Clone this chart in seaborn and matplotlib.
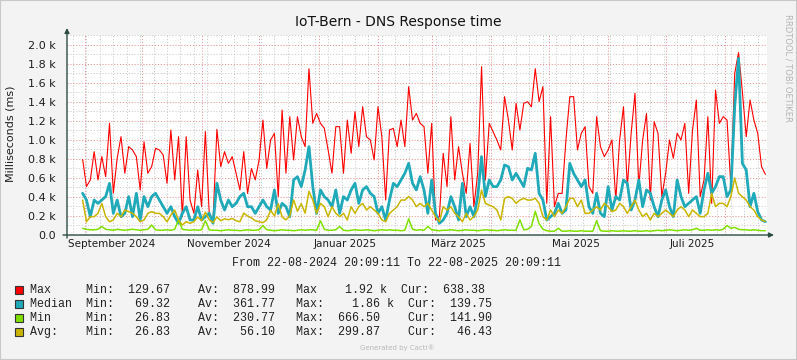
import matplotlib
matplotlib.use('Agg')
import matplotlib.pyplot as plt
import matplotlib.dates as mdates
from matplotlib.patches import Rectangle
from matplotlib.ticker import MultipleLocator, FuncFormatter
import pandas as pd
import seaborn as sns

# -----------------------------------------------------------------------------
# Data, one value every 2 days starting 31-08-2024 (ms)
# -----------------------------------------------------------------------------
max_ms = [
    795, 510, 580, 877, 580, 825, 614, 1175, 440, 807,
    1035, 650, 930, 895, 825, 474, 980, 650, 720, 912,
    895, 842, 544, 1105, 580, 1035, 193, 1035, 368, 228,
    684, 298, 1088, 228, 158, 1112, 719, 877, 754, 825,
    650, 474, 877, 438, 700, 580, 790, 1210, 700, 1000,
    1070, 404, 1315, 650, 1245, 790, 1245, 1035, 930, 1750,
    1175, 1280, 1175, 1123, 895, 650, 1140, 1140, 650, 1210,
    860, 1298, 930, 1350, 1035, 1000, 790, 1350, 1035, 368,
    1105, 1123, 930, 1210, 930, 1561, 1210, 1280, 1175,
    1140, 650, 1175, 158, 193, 860, 509, 1245, 579, 930,
    650, 438, 965, 298, 650, 1772, 579, 1175, 1088, 1000,
    895, 1456, 1210, 895, 1386, 1105, 1386, 1403, 1350, 1750,
    1403, 1561, 333, 1245, 298, 438, 438, 1000, 1456, 1456,
    895, 1070, 1140, 509, 438, 1245, 930, 825, 895, 1000,
    368, 1000, 1350, 509, 1070, 1491, 509, 1000, 1280, 368,
    1193, 1070, 404, 650, 1000, 807, 1070, 1000, 1175, 438,
    1105, 1420, 404, 579, 1245, 333, 1526, 1175, 1245, 1210,
    509, 1700, 1920, 1509, 1035, 1421, 1210, 1070, 719, 638,
]
median_ms = [
    439, 368, 193, 368, 333, 368, 404, 544, 228, 368,
    193, 228, 404, 193, 439, 158, 404, 298, 404, 439,
    368, 298, 228, 298, 193, 123, 228, 298, 158, 158,
    298, 158, 193, 228, 123, 544, 368, 263, 368, 298,
    333, 404, 439, 298, 298, 228, 298, 368, 298, 263,
    474, 228, 333, 298, 193, 579, 614, 509, 684, 930,
    509, 228, 474, 404, 368, 298, 474, 228, 404, 368,
    474, 544, 333, 474, 509, 439, 404, 228, 298, 158,
    368, 544, 509, 579, 649, 754, 544, 474, 614,
    474, 228, 579, 228, 123, 158, 228, 404, 298, 158,
    544, 193, 298, 193, 404, 825, 404, 579, 509, 509,
    579, 737, 719, 579, 649, 579, 509, 702, 684, 860,
    439, 368, 158, 193, 228, 333, 228, 263, 754, 649,
    579, 509, 579, 298, 228, 439, 228, 193, 509, 263,
    404, 368, 579, 544, 263, 368, 579, 298, 474, 439,
    298, 193, 368, 474, 298, 193, 579, 404, 298, 333,
    368, 404, 228, 474, 649, 439, 509, 614, 614, 404,
    474, 1350, 1860, 754, 684, 298, 439, 246, 158, 140,
]
min_ms = [
    70, 60, 55, 55, 60, 90, 60, 55, 50, 60,
    55, 50, 55, 60, 55, 50, 55, 60, 105, 55,
    50, 50, 55, 50, 60, 160, 60, 55, 50, 55,
    50, 55, 150, 55, 50, 50, 45, 50, 55, 50,
    50, 45, 50, 55, 50, 50, 55, 100, 55, 50,
    45, 50, 55, 50, 50, 45, 50, 55, 50, 55,
    55, 50, 150, 60, 50, 50, 55, 90, 50, 45,
    50, 55, 50, 50, 55, 50, 45, 50, 55, 50,
    55, 50, 50, 45, 50, 170, 60, 50, 55,
    50, 90, 55, 50, 45, 50, 50, 55, 50, 45,
    50, 55, 50, 50, 45, 50, 55, 50, 50, 45,
    50, 55, 50, 50, 50, 160, 55, 60, 90, 250,
    120, 60, 45, 40, 40, 70, 40, 40, 45, 40,
    40, 45, 40, 40, 40, 150, 45, 40, 40, 45,
    40, 40, 45, 40, 40, 45, 40, 40, 45, 40,
    45, 50, 45, 50, 55, 50, 45, 50, 55, 50,
    55, 70, 50, 50, 55, 50, 55, 50, 60, 100,
    70, 80, 60, 55, 55, 50, 55, 50, 45, 46,
]
avg_ms = [
    368, 140, 193, 193, 228, 333, 193, 140, 158, 228,
    193, 263, 246, 228, 193, 140, 158, 228, 246, 228,
    228, 193, 140, 210, 263, 158, 105, 140, 123, 140,
    190, 150, 240, 160, 130, 190, 150, 170, 160, 175,
    150, 140, 230, 200, 180, 150, 140, 130, 160, 260,
    200, 330, 190, 160, 200, 370, 250, 330, 230, 460,
    368, 228, 333, 298, 193, 298, 228, 193, 228, 158,
    298, 228, 298, 333, 263, 298, 263, 228, 158, 140,
    228, 263, 298, 368, 368, 404, 368, 298, 333,
    298, 333, 263, 193, 140, 298, 263, 298, 228, 193,
    140, 228, 158, 193, 263, 474, 333, 315, 298, 263,
    158, 386, 404, 386, 333, 368, 386, 368, 368, 386,
    333, 193, 158, 263, 193, 263, 228, 298, 386, 386,
    298, 368, 228, 228, 263, 298, 263, 333, 298, 246,
    263, 333, 298, 228, 298, 368, 263, 193, 228, 158,
    228, 193, 228, 263, 228, 193, 263, 298, 263, 193,
    263, 228, 193, 193, 228, 438, 298, 333, 333, 298,
    404, 600, 438, 404, 368, 298, 263, 193, 158, 142,
]

month_labels = ['September 2024', 'November 2024', 'Januar 2025',
                'März 2025', 'Mai 2025', 'Juli 2025']
month_label_dates = ['2024-09-15', '2024-11-15', '2025-01-15',
                     '2025-03-15', '2025-05-15', '2025-07-15']

# legend (gprint) table
legend_labels = ['Max', 'Median', 'Min', 'Avg:']
stat_min = ['129.67', '69.32', '26.83', '26.83']
stat_av = ['878.99', '361.77', '230.77', '56.10']
stat_max_label = ['Max', 'Max:', 'Max:', 'Max:']
stat_max = ['1.92', '1.86', '666.50', '299.87']
stat_max_unit = ['k', 'k', '', '']
stat_cur = ['638.38', '139.75', '141.90', '46.43']

series = ['Max', 'Median', 'Min', 'Avg']
colors = ['#FF0000', '#1FA9B9', '#7FE000', '#C9B500']
widths = [0.8, 2.0, 1.1, 1.1]

# -----------------------------------------------------------------------------
W, H = 797, 360
BG = '#F3F3F3'
AXIS_COL = '#2C4D43'


def fx(px):
    return px / W


def fy(py):
    return 1 - py / H


sns.set_theme(style='white')
plt.rcParams['font.family'] = ['DejaVu Sans']

assert len(max_ms) == len(median_ms) == len(min_ms) == len(avg_ms)
dates = pd.date_range('2024-08-31', periods=len(max_ms), freq='2D')
df = pd.DataFrame({'date': dates, 'Max': max_ms, 'Median': median_ms,
                   'Min': min_ms, 'Avg': avg_ms})
long_df = df.melt(id_vars='date', var_name='series', value_name='ms')

fig = plt.figure(figsize=(W / 100, H / 100), dpi=100, facecolor=BG)
ax = fig.add_axes([fx(67), fy(235), 700 / W, 200 / H])
ax.set_facecolor('white')

for name, col, lw in zip(series, colors, widths):
    sns.lineplot(data=long_df[long_df['series'] == name], x='date', y='ms',
                 color=col, linewidth=lw, estimator=None, legend=False, ax=ax)

ax.set_xlim(pd.Timestamp('2024-08-22 20:09:11'), pd.Timestamp('2025-08-22 20:09:11'))
ax.set_ylim(0, 2105)

# grid like rrdtool: minor grey, major pink
ax.yaxis.set_major_locator(MultipleLocator(200))
ax.yaxis.set_minor_locator(MultipleLocator(100))
ax.xaxis.set_major_locator(mdates.MonthLocator())
ax.xaxis.set_minor_locator(mdates.WeekdayLocator(byweekday=mdates.MO))
ax.set_axisbelow(True)
ax.grid(which='minor', color='#CDCDCD', linestyle=(0, (1.2, 1.8)), linewidth=0.7)
ax.grid(which='major', color='#E89A9A', linestyle=(0, (1.2, 1.8)), linewidth=0.7)

ax.yaxis.set_major_formatter(FuncFormatter(
    lambda v, p: '0.0' if v == 0 else f'{v / 1000:.1f} k'))
ax.tick_params(axis='y', which='both', length=0, pad=8, labelsize=8,
               labelcolor='#1E1E1E')
ax.tick_params(axis='x', which='both', length=0, labelbottom=False)
ax.set_xlabel('')
ax.set_ylabel('')
for s in ax.spines.values():
    s.set_visible(False)

for lab, d in zip(month_labels, month_label_dates):
    ax.text(pd.Timestamp(d), -0.045, lab, transform=ax.get_xaxis_transform(),
            ha='center', va='center', fontsize=7.5, color='#1E1E1E')

# axes with arrows
arrow = dict(arrowstyle='-|>', color=AXIS_COL, lw=1.0, mutation_scale=7,
             shrinkA=0, shrinkB=0)
ax.annotate('', xy=(67, H - 28), xytext=(67, H - 238), xycoords='figure pixels',
            textcoords='figure pixels', arrowprops=arrow)
ax.annotate('', xy=(774, H - 235), xytext=(63, H - 235), xycoords='figure pixels',
            textcoords='figure pixels', arrowprops=arrow)

# texts
fig.text(fx(398), fy(22), 'IoT-Bern - DNS Response time', ha='center',
         va='center', fontsize=10, color='#111111')
fig.text(fx(11), fy(134), 'Milliseconds (ms)', rotation=90, ha='center',
         va='center', fontsize=8, color='#1E1E1E')
fig.text(fx(788), fy(14), 'RRDTOOL / TOBI OETIKER', rotation=270, ha='center',
         va='top', fontsize=6, color='#B4B4B4')
fig.text(fx(397), fy(263), 'From 22-08-2024 20:09:11 To 22-08-2025 20:09:11',
         ha='center', va='center', fontsize=8.4, family='Liberation Mono',
         color='#222222')

row_y = [290, 304, 318, 332]
for i, lab in enumerate(legend_labels):
    line = (f"{lab:<8}Min:{stat_min[i]:>8}    Av:{stat_av[i]:>8}   "
            f"{stat_max_label[i]}{stat_max[i]:>8} {stat_max_unit[i]:<1}  "
            f"Cur:{stat_cur[i]:>8}")
    fig.text(fx(30), fy(row_y[i]), line, ha='left', va='center', fontsize=8.4,
             family='Liberation Mono', color='#222222')
    fig.patches.append(Rectangle((fx(15), fy(row_y[i] + 4)), 8 / W, 8 / H,
                                 transform=fig.transFigure, facecolor=colors[i],
                                 edgecolor='#333333', linewidth=0.8))

fig.text(fx(397), fy(348), 'Generated by Cacti®', ha='center', va='center',
         fontsize=5, color='#B8B8B8')

fig.patches.append(Rectangle((0, 0), 1, 1, transform=fig.transFigure,
                             facecolor='none', edgecolor='#C8C8C8', linewidth=1.5))

plt.savefig('out.png', dpi=100, facecolor=BG)
plt.close()
